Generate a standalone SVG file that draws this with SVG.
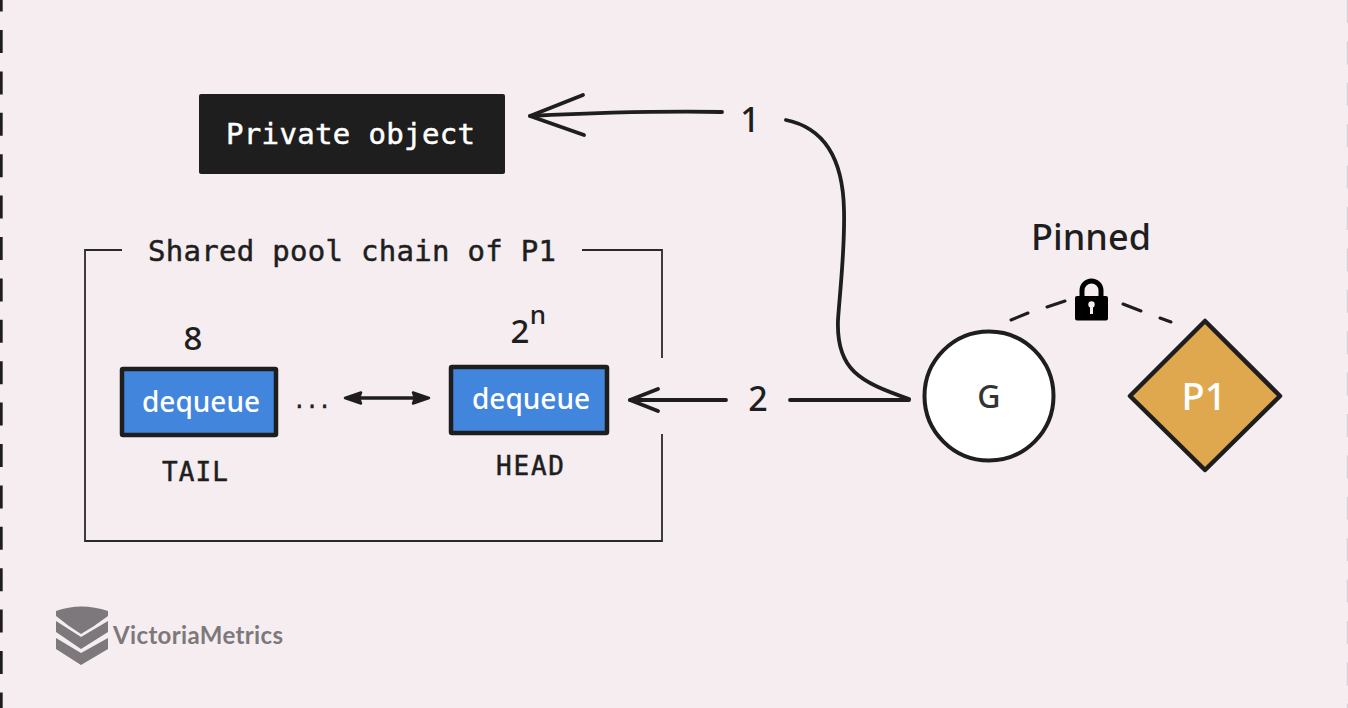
<svg xmlns="http://www.w3.org/2000/svg" width="1348" height="708" viewBox="0 0 1348 708">
<style>
.m{font-family:"DejaVu Sans Mono","Liberation Mono",monospace;fill:#1e1e1e;stroke:#1e1e1e;stroke-width:.5}
.s{font-family:"Noto Sans","DejaVu Sans",sans-serif;font-weight:500}
.w{fill:#fff;text-anchor:middle}
.d{fill:#1e1e1e;text-anchor:middle}
.c{fill:none;stroke:#1e1e1e;stroke-linecap:round;stroke-linejoin:round}
.box{fill:#4285dc;stroke:#1e1e1e;stroke-width:4.500}
.h{font-family:"Noto Sans",sans-serif;font-weight:500;fill:#1e1e1e;text-anchor:middle}
</style>
<rect width="1348" height="708" fill="#f5edf0"/>
<path d="M1 0V708" stroke="#1e1e1e" stroke-width="3.400" stroke-dasharray="23 18.4" stroke-dashoffset="11.4" fill="none"/>
<path d="M1347.500 0V708" stroke="#d8d2d6" stroke-width="1.500" stroke-dasharray="23 18.4" fill="none"/>

<g id="connectors">
<path class="c" stroke-width="3.800" d="M722 112C660 111 590 113 530 116"/>
<path class="c" stroke-width="3.800" d="M583 95L530 116L584 135"/>
<path class="c" stroke-width="3.800" d="M786 120C825 128 843 160 844 210C845 250 840 290 838 320C836 370 860 382 909 399"/>
<path class="c" stroke-width="3.800" d="M790 400H909"/>
<path class="c" stroke-width="3.800" d="M726 400H630"/>
<path class="c" stroke-width="3.800" d="M658 389L630 400L658 411"/>
<path class="c" stroke-width="3.400" d="M352 398H424"/>
<path fill="#1e1e1e" stroke="#1e1e1e" stroke-linejoin="round" stroke-width="2.500" d="M345 398L361 392.500L359 398L361 403.500ZM429 398L413 392.500L415 398L413 403.500Z"/>
<path class="c" stroke-width="3" d="M1011 320L1028 313M1047 307L1065 301M1123 304L1141 311M1160 318L1171 322"/>
</g>

<g id="private-object">
<rect x="199" y="94" width="306" height="80" rx="2" fill="#1e1e1e"/>
<text x="226" y="144" class="m" style="fill:#fff;stroke:#fff" font-size="29" textLength="249">Private object</text>
</g>

<g id="shared-pool">
<path fill="none" stroke="#2a2a2a" stroke-width="1.800" d="M122 250H85V541H662V434M662 358V250H582"/>
<text x="148" y="261" class="m" font-size="29" textLength="408">Shared pool chain of P1</text>
</g>

<g id="tail">
<text x="193" y="350" class="s d" font-size="33">8</text>
<rect class="box" x="122" y="369" width="154" height="66" rx="1"/>
<text x="201" y="412" class="s w" font-size="28">dequeue</text>
<text x="162" y="481" class="m" font-size="26" textLength="66">TAIL</text>
</g>
<text x="312" y="408" class="m" font-size="21" text-anchor="middle">...</text>
<g id="head">
<text x="520" y="343" class="s d" font-size="33">2</text>
<text x="538" y="324" class="s d" font-size="26">n</text>
<rect class="box" x="451" y="367" width="156" height="66" rx="1"/>
<text x="531" y="409" class="s w" font-size="28">dequeue</text>
<text x="496" y="475" class="m" font-size="26" textLength="68">HEAD</text>
</g>

<text x="750" y="132" class="h" font-size="34">1</text>
<text x="758" y="411" class="h" font-size="34">2</text>

<g id="g">
<circle cx="989" cy="396" r="64.500" fill="#fff" stroke="#1e1e1e" stroke-width="4"/>
<text x="989" y="408" class="s" font-size="32" fill="#333" text-anchor="middle">G</text>
</g>

<g id="p1">
<path d="M1205 321L1280 396L1205 470L1130 396Z" fill="#dfa84f" stroke="#1e1e1e" stroke-width="4.500" stroke-linejoin="round"/>
<text x="1204" y="410" class="s w" font-size="38" font-weight="600">P1</text>
</g>

<g id="lock">
<path d="M1082 297V290.500A9.500 9.500 0 0 1 1101 290.500V297" fill="none" stroke="#000" stroke-width="5"/>
<rect x="1075" y="296" width="33" height="24.500" rx="2" fill="#000"/>
<circle cx="1091.500" cy="304.500" r="3.200" fill="#f5edf0"/>
<rect x="1090" y="305" width="3" height="9" fill="#f5edf0"/>
</g>
<text x="1091" y="250" class="h" font-size="36" textLength="120">Pinned</text>

<g id="logo">
<path d="M56 611Q81 602 108 611V616Q95 626 81 634Q68 626 56 616Z" fill="#7d787c"/>
<path d="M56 621L81 637L108 621V632L81 649L56 632Z" fill="#7d787c"/>
<path d="M56 638L81 653L108 638V649L81 665L56 649Z" fill="#7d787c"/>
<text x="113" y="644" font-family="Lato,sans-serif" font-weight="700" font-size="24" fill="#7d787c" textLength="170">VictoriaMetrics</text>
</g>
</svg>
